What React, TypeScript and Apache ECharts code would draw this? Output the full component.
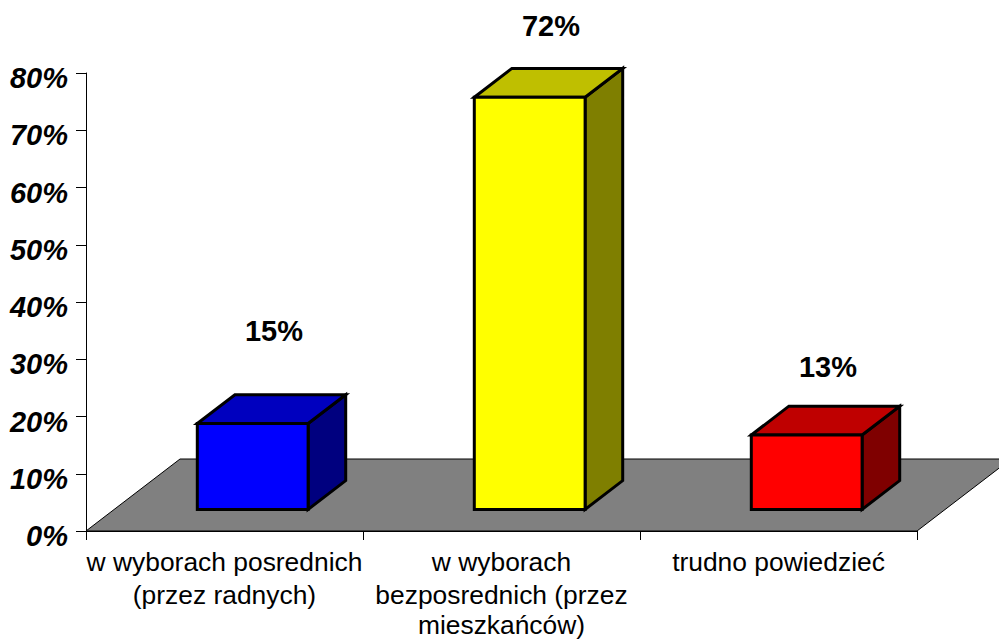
import React, { useEffect, useRef } from "react";
import * as echarts from "echarts";

const categories = [
  "w wyborach posrednich\n(przez radnych)",
  "w wyborach\nbezposrednich (przez\nmieszkańców)",
  "trudno powiedzieć",
];
const values = [15, 72, 13];
const frontColors = ["#0000ff", "#ffff00", "#ff0000"];
const topColors = ["#0000bf", "#bfbf00", "#bf0000"];
const sideColors = ["#00007f", "#7f7f00", "#7f0000"];
const labelLifts = [64, 42, 39];
const yTicks = { min: 0, max: 80, interval: 10 };

const FONT = "'Liberation Sans', Arial, sans-serif";
const FLOOR_DX = 94;
const FLOOR_DY = 72;
const BAR_RATIO = 0.4;
const lineStyles = ["l0", "l1", "l2"];
const catText = { color: "#000", fontFamily: FONT, fontSize: 26.4 };

export default function App() {
  const ref = useRef<HTMLDivElement>(null);
  useEffect(() => {
    const chart = echarts.init(ref.current!, null, { renderer: "svg" });
    chart.setOption({
      animation: false,
      backgroundColor: "#ffffff",
      grid: { left: 86, top: 73, width: 831, height: 458, containLabel: false, outerBoundsMode: "none" },
      xAxis: {
        type: "category",
        data: categories,
        boundaryGap: true,
        axisLine: { show: true, lineStyle: { color: "#000", width: 1 } },
        axisTick: { show: true, length: 9, alignWithLabel: false, lineStyle: { color: "#000", width: 1 } },
        axisLabel: {
          interval: 0,
          color: "#000",
          fontFamily: FONT,
          fontSize: 26.4,
          margin: 16.5,
          formatter: (v: string) =>
            v.split("\n").map((line, i) => `{${lineStyles[i]}|${line}}`).join("\n"),
          rich: {
            l0: { ...catText, lineHeight: 28 },
            l1: { ...catText, lineHeight: 38 },
            l2: { ...catText, lineHeight: 22 },
          },
        },
      },
      yAxis: {
        type: "value",
        min: yTicks.min,
        max: yTicks.max,
        interval: yTicks.interval,
        splitLine: { show: false },
        axisLine: { show: true, lineStyle: { color: "#000", width: 1 } },
        axisTick: { show: true, length: 10, lineStyle: { color: "#000", width: 1 } },
        axisLabel: {
          formatter: "{value}%",
          color: "#000",
          fontFamily: FONT,
          fontSize: 29,
          fontWeight: "bold",
          fontStyle: "italic",
          margin: 18,
          verticalAlign: "top",
          lineHeight: 10,
        },
      },
      series: [
        {
          type: "custom",
          z: 1,
          silent: true,
          data: [0],
          renderItem: (params: any) => {
            const { x, y, width, height } = params.coordSys;
            const b = y + height;
            return {
              type: "polygon",
              shape: {
                points: [
                  [x, b],
                  [x + FLOOR_DX, b - FLOOR_DY],
                  [x + width + FLOOR_DX, b - FLOOR_DY],
                  [x + width, b],
                ],
              },
              style: { fill: "#808080", stroke: "#000", lineWidth: 1 },
            };
          },
        },
        {
          type: "custom",
          z: 3,
          silent: true,
          data: values.map((v, i) => [i, v]),
          encode: { x: 0, y: 1 },
          renderItem: (params: any, api: any) => {
            const i = api.value(0);
            const base = api.coord([i, 0]);
            const top = api.coord([i, api.value(1)]);
            const band = api.size([1, 0])[0];
            const w = band * BAR_RATIO;
            const cx = base[0] + FLOOR_DX * 0.3;
            const yb = base[1] - FLOOR_DY * 0.3;
            const yt = top[1] - FLOOR_DY * 0.3;
            const l = cx - w / 2;
            const r = cx + w / 2;
            const dx = FLOOR_DX * BAR_RATIO;
            const dy = FLOOR_DY * BAR_RATIO;
            const stroke = { stroke: "#000", lineWidth: 3, lineJoin: "miter" };
            return {
              type: "group",
              children: [
                {
                  type: "polygon",
                  shape: { points: [[r, yt], [r + dx, yt - dy], [r + dx, yb - dy], [r, yb]] },
                  style: { fill: sideColors[i], ...stroke },
                },
                {
                  type: "polygon",
                  shape: { points: [[l, yt], [l + dx, yt - dy], [r + dx, yt - dy], [r, yt]] },
                  style: { fill: topColors[i], ...stroke },
                },
                {
                  type: "polygon",
                  shape: { points: [[l, yt], [r, yt], [r, yb], [l, yb]] },
                  style: { fill: frontColors[i], ...stroke },
                },
                {
                  type: "text",
                  x: cx + dx / 2 + 2.5,
                  y: yt - dy - labelLifts[i],
                  style: {
                    text: `${api.value(1)}%`,
                    fill: "#000",
                    font: `bold 29px ${FONT}`,
                    align: "center",
                    verticalAlign: "middle",
                  },
                },
              ],
            };
          },
        },
      ],
    });
    return () => chart.dispose();
  }, []);
  return (
    <div
      ref={ref}
      style={{ position: "fixed", left: 0, top: 0, width: 999, height: 639 }}
    />
  );
}
